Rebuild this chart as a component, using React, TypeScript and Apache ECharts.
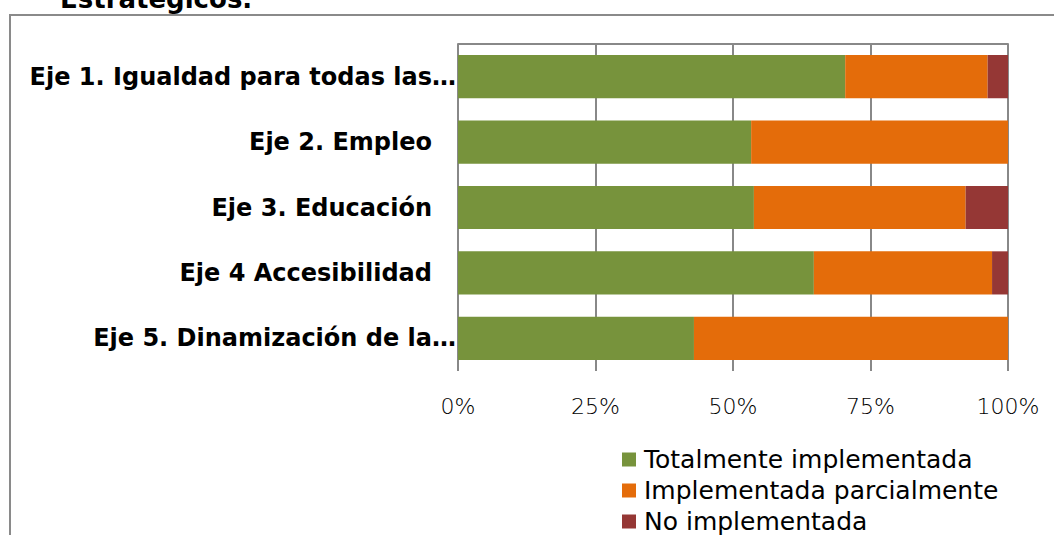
import React, { useEffect, useRef } from "react";
import * as echarts from "echarts";

const categories = [
  "Eje 1. Igualdad para todas las…",
  "Eje 2. Empleo",
  "Eje 3. Educación",
  "Eje 4 Accesibilidad",
  "Eje 5. Dinamización de la…",
];
const totalmente = [70.4, 53.3, 53.8, 64.7, 42.9];
const parcialmente = [25.9, 46.7, 38.5, 32.4, 57.1];
const noImpl = [3.7, 0, 7.7, 2.9, 0];
const seriesNames = ["Totalmente implementada", "Implementada parcialmente", "No implementada"];
const colors = ["#77933C", "#E46C0A", "#953735"];
const xTicks = [0, 25, 50, 75, 100];

export default function App() {
  const ref = useRef<HTMLDivElement>(null);
  useEffect(() => {
    if (!ref.current) return;
    const chart = echarts.init(ref.current, undefined, { renderer: "svg" });
    const font = "DejaVu Sans";
    const values = [totalmente, parcialmente, noImpl];
    chart.setOption({
      animation: false,
      backgroundColor: "#ffffff",
      textStyle: { fontFamily: font },
      graphic: [
        {
          type: "rect",
          shape: { x: 10, y: 15, width: 1100, height: 600 },
          style: { fill: "none", stroke: "#8a8a8a", lineWidth: 2 },
          z: -1,
        },
        {
          type: "text",
          x: 60,
          y: 12,
          style: {
            text: "Estratégicos.",
            fontFamily: font,
            fontWeight: "bold",
            fontSize: 26,
            fill: "#000",
            verticalAlign: "bottom",
          },
        },
      ],
      grid: { left: 458, right: 46, top: 44, height: 327, containLabel: false },
      xAxis: [
        {
          type: "value",
          min: xTicks[0],
          max: xTicks[xTicks.length - 1],
          interval: 25,
          axisLine: { show: false },
          axisTick: { show: false },
          splitLine: { show: true, lineStyle: { color: "#888888", width: 2 } },
          axisLabel: {
            formatter: "{value}%",
            fontSize: 22,
            color: "#000",
            margin: 24,
            fontFamily: font,
            fontWeight: 300,
          },
        },
        {
          type: "value",
          position: "top",
          min: 0,
          max: 100,
          axisLine: { show: true, lineStyle: { color: "#888888", width: 2 } },
          axisTick: { show: false },
          axisLabel: { show: false },
          splitLine: { show: false },
        },
      ],
      yAxis: {
        type: "category",
        inverse: true,
        data: categories,
        axisLine: { show: false },
        axisTick: { show: false },
        axisLabel: {
          margin: 2,
          formatter: (v: string) => (v.endsWith("…") ? `{a|${v}}` : `{b|${v}}`),
          rich: {
            a: { fontSize: 24, fontWeight: "bold", color: "#000", fontFamily: font },
            b: { fontSize: 24, fontWeight: "bold", color: "#000", fontFamily: font, padding: [0, 24, 0, 0] },
          },
        },
      },
      legend: {
        orient: "vertical",
        left: 622,
        top: 447,
        width: 420,
        height: 200,
        padding: 0,
        icon: "rect",
        itemWidth: 14,
        itemHeight: 14,
        itemGap: 6,
        data: seriesNames,
        textStyle: { fontSize: 25, color: "#000", lineHeight: 24, fontFamily: font, padding: [0, 0, 0, 3] },
      },
      series: seriesNames.map((name, i) => ({
        name,
        type: "bar",
        stack: "total",
        barCategoryGap: "34%",
        itemStyle: { color: colors[i] },
        data: values[i],
      })),
    });
    return () => chart.dispose();
  }, []);
  return (
    <div
      ref={ref}
      style={{ position: "fixed", left: 0, top: 0, width: 1054, height: 535 }}
    />
  );
}
